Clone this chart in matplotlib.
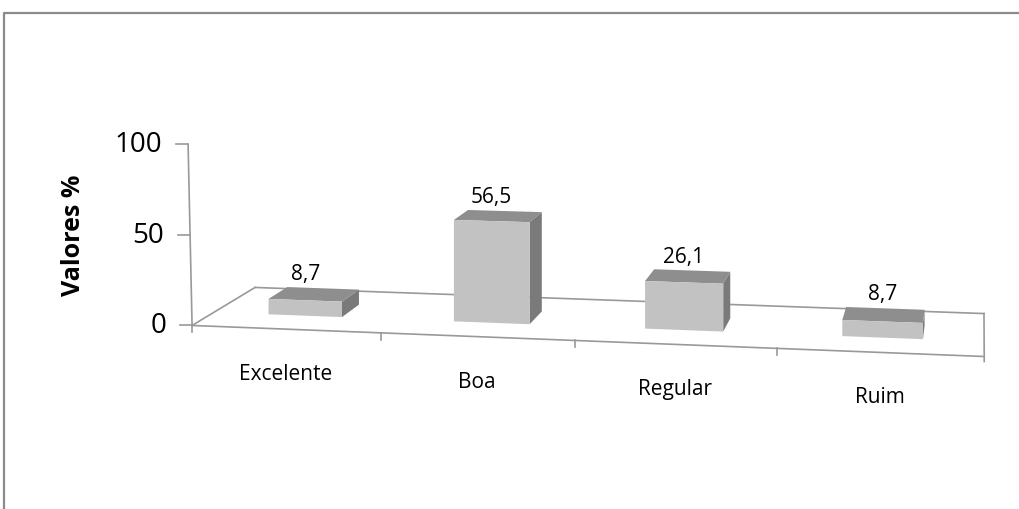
import numpy as np
import matplotlib.pyplot as plt
from matplotlib.patches import Polygon

plt.rcParams['font.family'] = ['Open Sans', 'DejaVu Sans']

categories = ["Excelente", "Boa", "Regular", "Ruim"]
values = [8.7, 56.5, 26.1, 8.7]
value_labels = ["8,7", "56,5", "26,1", "8,7"]
y_ticks = [0, 50, 100]
y_title = "Valores %"

# plot box layout: (category position, depth) -> pixel, front edge ticks included
floor_src = [(0, 0), (1, 0), (2, 0), (3, 0), (4, 0), (0, 1), (4, 1)]
floor_dst = [(192, 326), (381, 333.6), (575, 341.5), (777, 349.6), (984, 358),
             (255, 289), (984, 314)]
px_per_unit = 1.81
axis_lean = 4.0  # value axis leans left by this many px over its full height

bar_half = 0.2
z_front, z_back = 0.33, 0.65

line_col = "#999999"
front_col = "#c2c2c2"
top_col = "#8e8e8e"
side_col = "#7a7a7a"


def fit_homography(src, dst):
    A, b = [], []
    for (x, z), (u, v) in zip(src, dst):
        A.append([x, z, 1, 0, 0, 0, -u * x, -u * z])
        b.append(u)
        A.append([0, 0, 0, x, z, 1, -v * x, -v * z])
        b.append(v)
    h = np.linalg.lstsq(np.array(A, float), np.array(b, float), rcond=None)[0]
    return np.append(h, 1.0).reshape(3, 3)


H = fit_homography(floor_src, floor_dst)
# keep the front-left corner as the unit-scale reference
H = H / (H @ np.array([0, 0, 1.0]))[2]


def project(x, val, z):
    p = H @ np.array([x, z, 1.0])
    return p[0] / p[2], (p[1] - px_per_unit * val) / p[2]


fig = plt.figure(figsize=(10.2, 5.1), dpi=100)
ax = fig.add_axes([0, 0, 1, 1])
ax.set_xlim(0, 1020)
ax.set_ylim(510, 0)
ax.axis("off")

# outer chart border
ax.plot([4, 4, 1020], [510, 14, 14], color="#8a8a8a", lw=1.6, solid_capstyle="butt")

# floor outline
n = len(categories)
fl = project(0, 0, 0)
fr = project(n, 0, 0)
bl = project(0, 0, 1)
br = project(n, 0, 1)
ax.plot([fl[0], fr[0]], [fl[1], fr[1]], color=line_col, lw=1.2, zorder=1)
ax.plot([bl[0], br[0]], [bl[1], br[1]], color=line_col, lw=1.2, zorder=1)
ax.plot([fl[0], bl[0]], [fl[1], bl[1]], color=line_col, lw=1.2, zorder=1)
ax.plot([br[0], fr[0]], [br[1], fr[1] + 5], color=line_col, lw=1.2, zorder=1)

# category ticks along the front edge
for i in range(n):
    tx, ty = project(i, 0, 0)
    ax.plot([tx, tx], [ty, ty + 7], color=line_col, lw=1.2, zorder=1)

# value axis
y_max = max(y_ticks)
ax_x0, ax_y0 = project(0, 0, 0)
ax_x1, ax_y1 = project(0, y_max, 0)
ax.plot([ax_x0, ax_x1 - axis_lean], [ax_y0, ax_y1], color=line_col, lw=1.2, zorder=1)
for t in y_ticks:
    tx, ty = project(0, t, 0)
    tx -= axis_lean * t / y_max
    ax.plot([tx - 12, tx], [ty, ty], color=line_col, lw=1.2, zorder=1)
    ax.text(tx - 26, ty, str(t), ha="right", va="center", fontsize=20)

ax.text(74, 235, y_title, rotation=90, ha="center", va="center",
        fontsize=18, fontweight="bold")

# bars
for i, val in enumerate(values):
    x0, x1 = i + 0.5 - bar_half, i + 0.5 + bar_half
    top = [project(x0, val, z_front), project(x1, val, z_front),
           project(x1, val, z_back), project(x0, val, z_back)]
    side = [project(x1, 0, z_front), project(x1, val, z_front),
            project(x1, val, z_back), project(x1, 0, z_back)]
    front = [project(x0, 0, z_front), project(x1, 0, z_front),
             project(x1, val, z_front), project(x0, val, z_front)]
    ax.add_patch(Polygon(side, closed=True, fc=side_col, ec="none", zorder=2))
    ax.add_patch(Polygon(top, closed=True, fc=top_col, ec="none", zorder=2))
    ax.add_patch(Polygon(front, closed=True, fc=front_col, ec="none", zorder=3))

    lx = project(i + 0.5, val, z_front)[0]
    ly = project(i + 0.5, val, z_back)[1]
    ax.text(lx, ly - 9, value_labels[i], ha="center", va="baseline", fontsize=15)

    cx, cy = project(i + 0.5, 0, 0)
    ax.text(cx, cy + 34, categories[i], ha="center", va="top", fontsize=15)

fig.savefig("out.png", dpi=100)
